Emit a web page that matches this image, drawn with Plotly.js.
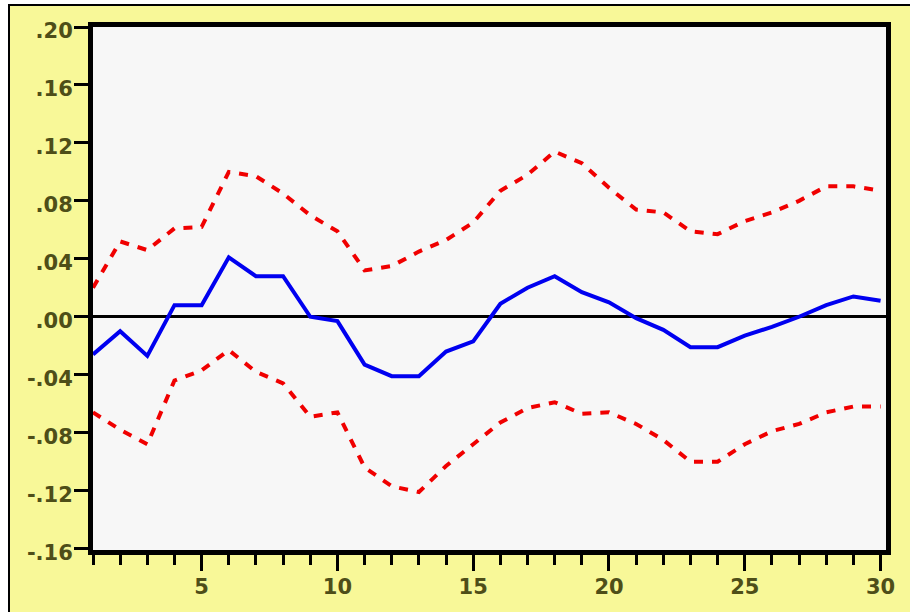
<!DOCTYPE html>
<html>
<head>
<meta charset="utf-8">
<script src="https://cdn.plot.ly/plotly-3.0.1.min.js"></script>
<style>
  html, body { margin: 0; padding: 0; background: #ffffff; }
  #wrap { position: relative; width: 910px; height: 612px; overflow: hidden; }
  #chart { position: absolute; left: 0; top: 0; width: 910px; height: 612px; }
  .edge { position: absolute; pointer-events: none; }
</style>
</head>
<body>
<div id="wrap">
  <div id="chart"></div>
  <div class="edge" style="left:0;top:0;width:910px;height:4px;background:#ffffff;"></div>
  <div class="edge" style="left:0;top:0;width:8px;height:612px;background:#ffffff;"></div>
  <div class="edge" style="left:8px;top:4px;width:902px;height:2px;background:#000000;"></div>
  <div class="edge" style="left:8px;top:4px;width:2px;height:608px;background:#000000;"></div>
</div>
<script>
// Period (horizon)
const periods = [1,2,3,4,5,6,7,8,9,10,11,12,13,14,15,16,17,18,19,20,21,22,23,24,25,26,27,28,29,30];

// Impulse response
const response = [-0.026,-0.010,-0.027,0.008,0.008,0.041,0.028,0.028,0.000,-0.003,
                  -0.033,-0.041,-0.041,-0.024,-0.017,0.009,0.020,0.028,0.017,0.010,
                  -0.001,-0.009,-0.021,-0.021,-0.013,-0.007,0.000,0.008,0.014,0.011];

// +/- 2 S.E. bands
const upperBand = [0.020,0.052,0.046,0.061,0.062,0.100,0.097,0.085,0.070,0.059,
                   0.032,0.035,0.045,0.053,0.065,0.087,0.098,0.114,0.106,0.089,
                   0.074,0.072,0.059,0.057,0.066,0.072,0.080,0.090,0.090,0.087];
const lowerBand = [-0.066,-0.078,-0.088,-0.044,-0.037,-0.023,-0.038,-0.046,-0.069,-0.066,
                   -0.104,-0.117,-0.121,-0.103,-0.088,-0.073,-0.063,-0.059,-0.067,-0.066,
                   -0.074,-0.085,-0.100,-0.100,-0.088,-0.079,-0.074,-0.066,-0.062,-0.062];

// Tick labels
const yTickVals = [-0.16,-0.12,-0.08,-0.04,0.00,0.04,0.08,0.12,0.16,0.20];
const yTickText = ['-.16','-.12','-.08','-.04','.00','.04','.08','.12','.16','.20'];
const xTickVals = [5,10,15,20,25,30];
const xTickText = ['5','10','15','20','25','30'];

const red = '#f00000';
const blue = '#0000f0';

const traces = [
  { x: periods, y: upperBand, type: 'scatter', mode: 'lines',
    line: { color: red, width: 4, dash: '9px,9px' }, hoverinfo: 'skip' },
  { x: periods, y: lowerBand, type: 'scatter', mode: 'lines',
    line: { color: red, width: 4, dash: '9px,9px' }, hoverinfo: 'skip' },
  { x: periods, y: response, type: 'scatter', mode: 'lines',
    line: { color: blue, width: 4 } }
];

const yFont = { family: 'DejaVu Sans, sans-serif', size: 21, color: '#4e4e18', weight: 'bold' };
const xFont = { family: 'DejaVu Sans, sans-serif', size: 21, color: '#4e4e18', weight: 'bold' };

const layout = {
  width: 910, height: 612,
  margin: { l: 93, r: 24, t: 27, b: 62, pad: 0 },
  paper_bgcolor: '#f8f898',
  plot_bgcolor: '#f7f7f7',
  showlegend: false,
  xaxis: {
    range: [1, 30.2],
    tickmode: 'array', tickvals: xTickVals, ticktext: xTickText,
    ticks: 'outside', ticklen: 16, tickwidth: 3, tickcolor: '#000',
    ticklabelstandoff: -2,
    minor: { tickmode: 'linear', tick0: 0, dtick: 1, ticks: 'outside', ticklen: 10, tickwidth: 3, tickcolor: '#000', showgrid: false },
    showgrid: false, zeroline: false,
    showline: true, linecolor: '#000', linewidth: 5, mirror: true,
    tickfont: xFont
  },
  yaxis: {
    range: [-0.161, 0.20],
    tickmode: 'array', tickvals: yTickVals, ticktext: yTickText,
    ticks: 'outside', ticklen: 14, tickwidth: 3, tickcolor: '#000',
    ticklabelshift: 4, ticklabelstandoff: -3,
    showgrid: false,
    zeroline: true, zerolinecolor: '#000', zerolinewidth: 3,
    showline: true, linecolor: '#000', linewidth: 5, mirror: true,
    tickfont: yFont
  }
};

Plotly.newPlot('chart', traces, layout, { displayModeBar: false, staticPlot: true });
</script>
</body>
</html>
